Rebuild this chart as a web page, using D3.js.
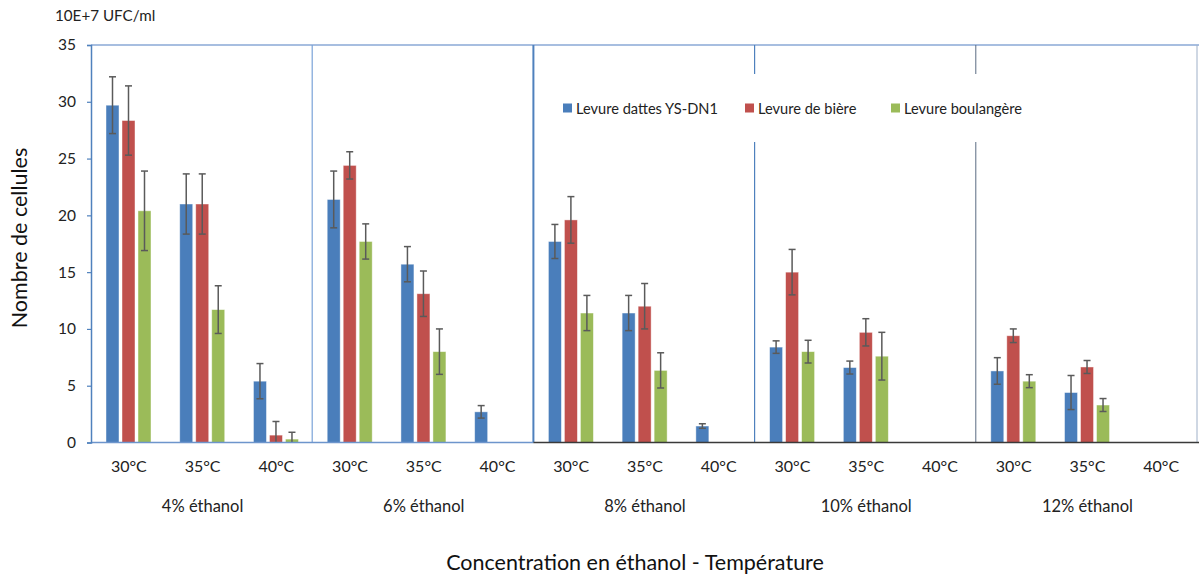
<!DOCTYPE html>
<html>
<head>
<meta charset="utf-8">
<script src="https://cdn.jsdelivr.net/npm/d3@7"></script>
<style>
  html, body { margin: 0; padding: 0; background: #fff; }
  svg { display: block; font-family: Lato, "Open Sans", sans-serif; }
</style>
</head>
<body>
<svg id="chart" width="1199" height="576"></svg>
<script>
// Ethanol concentrations (outer groups) and incubation temperatures (inner categories)
const groups = ["4% éthanol", "6% éthanol", "8% éthanol", "10% éthanol", "12% éthanol"];
const temps = ["30°C", "35°C", "40°C"];
const series = ["Levure dattes YS-DN1", "Levure de bière", "Levure boulangère"];
const colors = ["#4a7ebb", "#c0504d", "#9bbb59"];
const yTicks = [0, 5, 10, 15, 20, 25, 30, 35];

// Cell counts (10E+7 UFC/ml), one value per group × temperature, in order
const dattes     = [29.7, 21.0, 5.4,  21.4, 15.7, 2.7,  17.7, 11.4, 1.45,  8.4, 6.6, 0,  6.3, 4.4, 0];
const dattesErr  = [2.5, 2.65, 1.55,  2.5, 1.55, 0.55,  1.5, 1.55, 0.2,  0.55, 0.57, 0,  1.17, 1.5, 0];
const biere      = [28.35, 21.0, 0.65,  24.4, 13.1, 0,  19.6, 12.0, 0,  15.0, 9.7, 0,  9.4, 6.65, 0];
const biereErr   = [3.05, 2.65, 1.2,  1.2, 2.0, 0,  2.05, 2.0, 0,  2.0, 1.2, 0,  0.6, 0.57, 0];
const boulang    = [20.4, 11.7, 0.3,  17.7, 8.0, 0,  11.4, 6.35, 0,  8.0, 7.6, 0,  5.4, 3.3, 0];
const boulangErr = [3.5, 2.1, 0.6,  1.55, 2.0, 0,  1.55, 1.55, 0,  1.0, 2.1, 0,  0.57, 0.57, 0];

const values = [dattes, biere, boulang];
const errors = [dattesErr, biereErr, boulangErr];

const categories = [];
groups.forEach(g => temps.forEach(t => categories.push(g + "|" + t)));

const rows = categories.map((c, i) => ({
  key: c,
  group: c.split("|")[0],
  temp: c.split("|")[1],
  items: series.map((s, k) => ({ s, k, v: values[k][i], e: errors[k][i] }))
}));

const svg = d3.select("#chart");
const plotLeft = 91, plotRight = 1197, plotTop = 45, plotBottom = 442.5;

const x0 = d3.scaleBand().domain(categories).range([plotLeft, plotRight]).padding(0);
const x1 = d3.scaleBand().domain(series).range([15, 60]).paddingInner(0.1875).paddingOuter(0);
const y = d3.scaleLinear().domain([0, 35]).range([plotBottom, plotTop]);
const gx = d3.scaleBand().domain(groups).range([plotLeft, plotRight]);

// Bars
const cat = svg.append("g").selectAll("g").data(rows).join("g")
  .attr("transform", d => `translate(${x0(d.key)},0)`);

cat.selectAll("rect").data(d => d.items.filter(it => it.v > 0)).join("rect")
  .attr("x", d => x1(d.s))
  .attr("width", x1.bandwidth())
  .attr("y", d => y(d.v))
  .attr("height", d => y(0) - y(d.v))
  .attr("fill", d => colors[d.k])
  .attr("stroke", "rgba(255,255,255,0.55)")
  .attr("stroke-width", 0.8);

// Error bars (clipped at the baseline)
const err = cat.selectAll("g.err").data(d => d.items.filter(it => it.e > 0)).join("g")
  .attr("class", "err")
  .attr("stroke", "#5a5a5a")
  .attr("stroke-width", 1.5);
err.append("line")
  .attr("x1", d => x1(d.s) + x1.bandwidth() / 2)
  .attr("x2", d => x1(d.s) + x1.bandwidth() / 2)
  .attr("y1", d => y(d.v + d.e))
  .attr("y2", d => y(Math.max(0, d.v - d.e)));
err.append("line")
  .attr("x1", d => x1(d.s) + x1.bandwidth() / 2 - 3.5)
  .attr("x2", d => x1(d.s) + x1.bandwidth() / 2 + 3.5)
  .attr("y1", d => y(d.v + d.e))
  .attr("y2", d => y(d.v + d.e));
err.filter(d => d.v - d.e > 0).append("line")
  .attr("x1", d => x1(d.s) + x1.bandwidth() / 2 - 3.5)
  .attr("x2", d => x1(d.s) + x1.bandwidth() / 2 + 3.5)
  .attr("y1", d => y(d.v - d.e))
  .attr("y2", d => y(d.v - d.e));

// Frame: top border, right border, group separators
const frame = svg.append("g").attr("fill", "none");
frame.append("line").attr("x1", plotLeft).attr("x2", 1199).attr("y1", plotTop).attr("y2", plotTop)
  .attr("stroke", "#8aa9d6").attr("stroke-width", 1.5);
frame.append("line").attr("x1", plotRight).attr("x2", plotRight).attr("y1", plotTop).attr("y2", plotBottom)
  .attr("stroke", "#9fb0c8").attr("stroke-width", 1);

const sepStyle = [
  { color: "#7aa3d8", w: 1.2, gap: false },
  { color: "#4f81bd", w: 2, gap: false },
  { color: "#4f81bd", w: 1.2, gap: true },
  { color: "#5b6b82", w: 1, gap: true }
];
groups.slice(1).forEach((g, i) => {
  const sx = gx(g);
  const st = sepStyle[i];
  const segs = st.gap ? [[plotTop, 74], [142, plotBottom]] : [[plotTop, plotBottom]];
  segs.forEach(([a, b]) => {
    frame.append("line").attr("x1", sx).attr("x2", sx).attr("y1", a).attr("y2", b)
      .attr("stroke", st.color).attr("stroke-width", st.w);
  });
});

// Baseline
frame.append("line").attr("x1", plotLeft).attr("x2", gx(groups[2])).attr("y1", plotBottom).attr("y2", plotBottom)
  .attr("stroke", "#6d95cc").attr("stroke-width", 1.5);
frame.append("line").attr("x1", gx(groups[2])).attr("x2", 1199).attr("y1", plotBottom).attr("y2", plotBottom)
  .attr("stroke", "#3a3a3a").attr("stroke-width", 1.5);

// Y axis
const yAxis = svg.append("g")
  .attr("transform", `translate(${plotLeft},0)`)
  .call(d3.axisLeft(y).tickValues(yTicks).tickSize(4).tickPadding(11).tickFormat(d3.format("d")));
yAxis.select(".domain").attr("stroke", "#4f81bd").attr("stroke-width", 1.5);
yAxis.selectAll(".tick line").attr("stroke", "#4f81bd").attr("stroke-width", 1.2);
yAxis.selectAll(".tick text")
  .attr("font-family", "Lato, 'Open Sans', sans-serif")
  .attr("font-size", 15.5).attr("fill", "#222");

// Temperature labels
svg.append("g").selectAll("text").data(rows).join("text")
  .attr("x", d => x0(d.key) + x0.bandwidth() / 2 + 1)
  .attr("y", 472)
  .attr("text-anchor", "middle")
  .attr("font-size", 16).attr("fill", "#222")
  .text(d => d.temp);

// Ethanol concentration labels
svg.append("g").selectAll("text").data(groups).join("text")
  .attr("x", d => gx(d) + gx.bandwidth() / 2 + 1)
  .attr("y", 512)
  .attr("text-anchor", "middle")
  .attr("font-size", 16.5).attr("fill", "#222")
  .text(d => d);

// Unit label
svg.append("text").attr("x", 55).attr("y", 21)
  .attr("font-size", 15.2).attr("fill", "#222")
  .text("10E+7 UFC/ml");

// Axis titles
svg.append("text").attr("x", 635).attr("y", 570)
  .attr("text-anchor", "middle").attr("font-size", 21.5).attr("fill", "#111")
  .text("Concentration en éthanol - Température");
svg.append("text")
  .attr("transform", "translate(27,238) rotate(-90)")
  .attr("text-anchor", "middle").attr("font-size", 21.5).attr("fill", "#111")
  .text("Nombre de cellules");

// Legend
const legendX = [563, 745, 891];
const leg = svg.append("g").selectAll("g").data(series).join("g")
  .attr("transform", (d, i) => `translate(${legendX[i]},108)`);
leg.append("rect").attr("x", 0).attr("y", -4.5).attr("width", 9).attr("height", 9)
  .attr("fill", (d, i) => colors[i]);
leg.append("text").attr("x", 13).attr("y", 5.5)
  .attr("font-size", 14.6).attr("fill", "#222")
  .text(d => d);
</script>
</body>
</html>
